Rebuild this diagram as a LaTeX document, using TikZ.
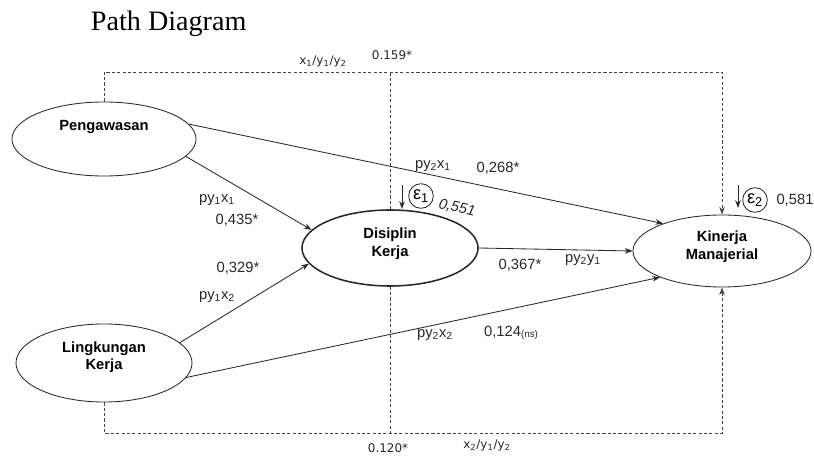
\documentclass[tikz,border=0pt]{standalone}
\usepackage{fontspec}
\setmainfont{Liberation Sans}
\newfontfamily\titleserif{Liberation Serif}
\newfontfamily\dvsans{DejaVu Sans}
\usepackage{xcolor}
\definecolor{linecol}{RGB}{40, 40, 40}
\definecolor{dashcol}{RGB}{70, 70, 70}
\usepackage{tikz}
\usetikzlibrary{arrows.meta, shapes.geometric}

\begin{document}
\begin{tikzpicture}[x=0.025cm, y=-0.025cm,
  latent/.style={ellipse, draw=linecol, line width=0.6pt, inner sep=0pt},
  vartext/.style={font=\fontsize{10.5}{12.5}\selectfont\bfseries, align=center, text=black},
  coef/.style={font=\fontsize{10.5}{12}\selectfont, text=linecol},
  pathlbl/.style={font=\dvsans\fontsize{8.5}{10}\selectfont, text=linecol},
  errcirc/.style={circle, draw=linecol, line width=0.6pt, minimum size=17.5pt, inner sep=0pt, font=\fontsize{13}{13}\selectfont},
  dashpath/.style={draw=dashcol, line width=0.6pt, dash pattern=on 2.2pt off 1.6pt},
  >={Stealth[length=5.5pt, width=4pt]}]
  \useasboundingbox (0,0) rectangle (814,457);

  % Title
  \node[font=\titleserif\fontsize{20}{23}\selectfont, anchor=base west] (title) at (86,31) {Path Diagram};

  % Variables
  \node[latent, minimum width=4.6cm, minimum height=1.85cm,
        label={[vartext, yshift=8.5pt]center:Pengawasan}] (peng) at (104,139) {};
  \node[latent, minimum width=4.4cm, minimum height=1.95cm,
        label={[vartext, yshift=4pt]center:Lingkungan\\Kerja}] (ling) at (104,363) {};
  \node[latent, line width=1.1pt, minimum width=4.4cm, minimum height=1.9cm,
        label={[vartext, yshift=3pt]center:Disiplin\\Kerja}] (dis) at (390,248) {};
  \node[latent, minimum width=4.45cm, minimum height=1.8cm,
        label={[vartext, yshift=3pt]center:Kinerja\\Manajerial}] (kin) at (722,251) {};

  % Indirect paths (dashed)
  \coordinate (topR) at (722,72);
  \coordinate (botR) at (722,433);
  \draw[dashpath, ->] (peng.north) |- (topR) -- (kin.north);
  \draw[dashpath] (dis.north) -- (dis.north |- topR);
  \draw[dashpath, ->] (ling.south) |- (botR) -- (kin.south);
  \draw[dashpath] (dis.south) -- (dis.south |- botR);
  \node[pathlbl] (top1) at (323,61) {x\textsubscript{1}/y\textsubscript{1}/y\textsubscript{2}};
  \node[pathlbl] (top2) at (392,55) {0.159*};
  \node[pathlbl] (bot1) at (487,445) {x\textsubscript{2}/y\textsubscript{1}/y\textsubscript{2}};
  \node[pathlbl] (bot2) at (388,448) {0.120*};

  % Direct paths
  \draw[->, linecol, line width=0.6pt] (peng.10) -- (kin.155.7);
  \draw[->, linecol, line width=0.6pt] (peng.-12) -- (dis.167.8);
  \draw[->, linecol, line width=0.6pt] (ling.15.4) -- (dis.191.6);
  \draw[->, linecol, line width=0.6pt] (ling.-10.5) -- (kin.203.5);
  \draw[->, linecol, line width=0.6pt] (dis.0) -- (kin.180);

  % Coefficients
  \node[coef] at (433,166) {py\textsubscript{2}x\textsubscript{1}};
  \node[coef] at (498,168) {0,268*};
  \node[coef] at (217,200) {py\textsubscript{1}x\textsubscript{1}};
  \node[coef] at (237,220) {0,435*};
  \node[coef] at (238,268) {0,329*};
  \node[coef] at (217,297) {py\textsubscript{1}x\textsubscript{2}};
  \node[coef] at (520,265) {0,367*};
  \node[coef] at (583,260) {py\textsubscript{2}y\textsubscript{1}};
  \node[coef] at (435,335) {py\textsubscript{2}x\textsubscript{2}};
  \node[coef] at (511,333) {0,124\raisebox{-1pt}{\fontsize{7}{8}\selectfont(ns)}};

  % Residuals
  \node[errcirc] (e1) at (421,196) {ε\textsubscript{1}};
  \coordinate (e1a) at (402,185);
  \coordinate (e1b) at (402,209);
  \draw[->, linecol, line width=0.7pt] (e1a) -- (e1b);
  \node[coef, font=\fontsize{10.5}{12}\selectfont\itshape, rotate=-12] (r1) at (457,208) {0,551};

  \node[errcirc] (e2) at (755,200) {ε\textsubscript{2}};
  \coordinate (e2a) at (738,185);
  \coordinate (e2b) at (738,208);
  \draw[->, linecol, line width=0.7pt] (e2a) -- (e2b);
  \node[coef] (r2) at (795,200) {0,581};
\end{tikzpicture}
\end{document}
